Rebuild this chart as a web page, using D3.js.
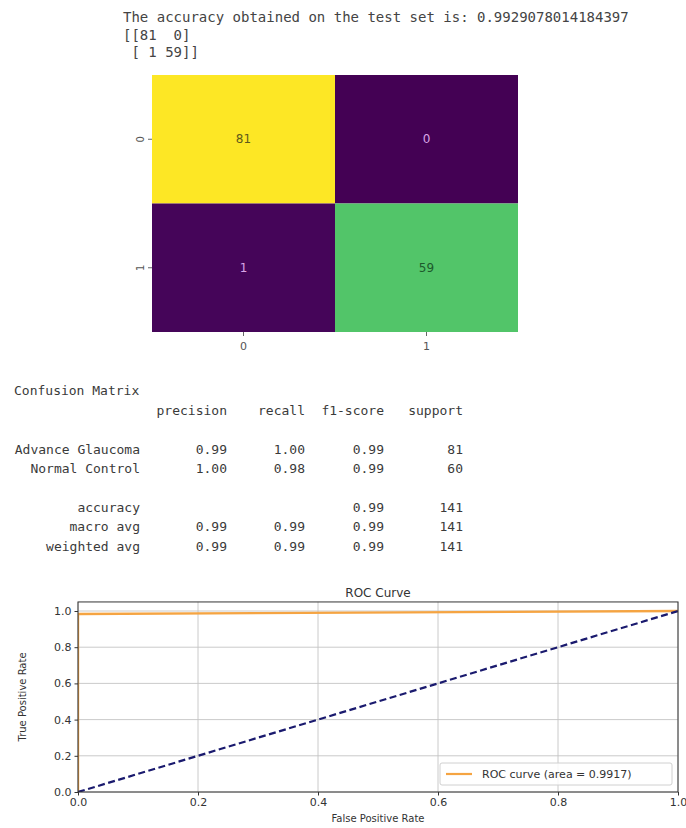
<!DOCTYPE html>
<html><head><meta charset="utf-8">
<script src="https://cdn.jsdelivr.net/npm/d3@7"></script>
<style>body{margin:0;background:#fff}svg{display:block}</style>
</head><body>
<svg id="c" width="686" height="828"></svg>
<script>
// ---- data ----
const accuracyLine = "The accuracy obtained on the test set is: 0.9929078014184397";
const matrixLines = ["[[81  0]", " [ 1 59]]"];
const cmLabels = ["0", "1"];
const cmValues = [[81, 0], [1, 59]];
const reportTitle = "Confusion Matrix";
const reportHeader = ["precision", "recall", "f1-score", "support"];
const reportClassRows = [
  ["Advance Glaucoma", "0.99", "1.00", "0.99", "81"],
  ["Normal Control", "1.00", "0.98", "0.99", "60"]
];
const reportSummaryRows = [
  ["accuracy", "", "", "0.99", "141"],
  ["macro avg", "0.99", "0.99", "0.99", "141"],
  ["weighted avg", "0.99", "0.99", "0.99", "141"]
];
const rocFpr = [0, 0, 1];
const rocTpr = [0, 0.9833, 1];
const chanceFpr = [0, 1];
const chanceTpr = [0, 1];
const rocTicks = [0, 0.2, 0.4, 0.6, 0.8, 1.0];
const rocAuc = 0.9917;

const svg = d3.select("#c");
const mono = "'DejaVu Sans Mono', monospace";
const sans = "'DejaVu Sans', sans-serif";

// ---- top console text ----
const consoleG = svg.append("g").attr("font-family", mono).attr("font-size", 14).attr("fill", "#444");
consoleG.append("text").attr("x", 123).attr("y", 22).text(accuracyLine);
consoleG.selectAll("text.m").data(matrixLines).join("text").attr("class", "m")
  .attr("x", 123).attr("y", (d, i) => 40 + i * 17).style("white-space", "pre").text(d => d);

// ---- heatmap ----
const hx = d3.scaleBand().domain(cmLabels).range([152, 518]);
const hy = d3.scaleBand().domain(cmLabels).range([75, 332]);
const color = d3.scaleSequential(d3.interpolateViridis).domain([0, 81]);
const cells = [];
cmValues.forEach((row, i) => row.forEach((v, j) => cells.push({r: cmLabels[i], c: cmLabels[j], v})));
const hm = svg.append("g");
hm.selectAll("rect").data(cells).join("rect")
  .attr("x", d => hx(d.c)).attr("y", d => hy(d.r))
  .attr("width", hx.bandwidth()).attr("height", hy.bandwidth())
  .attr("fill", d => color(d.v));
hm.selectAll("text").data(cells).join("text")
  .attr("x", d => hx(d.c) + hx.bandwidth() / 2).attr("y", d => hy(d.r) + hy.bandwidth() / 2 + 4)
  .attr("text-anchor", "middle").attr("font-family", sans).attr("font-size", 12)
  .attr("fill", d => d.v > 40 ? (d.v > 70 ? "#5e5a1c" : "#1d5a2c") : "#d9a6e6")
  .text(d => d.v);
const hxa = svg.append("g").attr("transform", "translate(0,332)")
  .call(d3.axisBottom(hx).tickSize(4).tickPadding(6));
hxa.select(".domain").remove();
hxa.selectAll("text").attr("font-family", sans).attr("font-size", 11).attr("fill", "#555");
hxa.selectAll("line").attr("stroke", "#666");
const hya = svg.append("g").attr("transform", "translate(152,0)")
  .call(d3.axisLeft(hy).tickSize(4).tickPadding(4));
hya.select(".domain").remove();
hya.selectAll("line").attr("stroke", "#666");
hya.selectAll("text").attr("font-family", sans).attr("font-size", 10).attr("fill", "#555")
  .attr("text-anchor", "middle").attr("dy", 0)
  .attr("transform", "translate(-12,0) rotate(-90)")
  .attr("x", 0).attr("y", 4);

// ---- classification report ----
const rep = svg.append("g").attr("font-family", mono).attr("font-size", 13).attr("fill", "#3a3a3a");
rep.append("text").attr("x", 14).attr("y", 395).text(reportTitle);
const colEnds = [140, 227, 305, 384, 463];
rep.selectAll("text.h").data(reportHeader).join("text").attr("class", "h")
  .attr("x", (d, i) => colEnds[i + 1]).attr("y", 415).attr("text-anchor", "end").text(d => d);
const rowY = [454, 473, 512, 531, 551];
const allRows = reportClassRows.concat(reportSummaryRows);
allRows.forEach((row, ri) => {
  rep.selectAll("text.r" + ri).data(row).join("text").attr("class", "r" + ri)
    .attr("x", (d, i) => colEnds[i]).attr("y", rowY[ri]).attr("text-anchor", "end").text(d => d);
});

// ---- ROC curve ----
const x = d3.scaleLinear().domain([0, 1]).range([78, 678]);
const y = d3.scaleLinear().domain([0, 1.05]).range([792, 792 - 1.05 * 181]);
svg.append("defs").append("clipPath").attr("id", "plotclip").append("rect")
  .attr("x", x(0)).attr("y", y(1.05)).attr("width", x(1) - x(0)).attr("height", y(0) - y(1.05));
const roc = svg.append("g");
roc.append("g").selectAll("line").data(rocTicks).join("line")
  .attr("x1", d => x(d)).attr("x2", d => x(d)).attr("y1", y(1.05)).attr("y2", y(0))
  .attr("stroke", "#c4c4c4").attr("stroke-width", 0.9);
roc.append("g").selectAll("line").data(rocTicks).join("line")
  .attr("y1", d => y(d)).attr("y2", d => y(d)).attr("x1", x(0)).attr("x2", x(1))
  .attr("stroke", "#c4c4c4").attr("stroke-width", 0.9);
const line = d3.line().x(d => x(d[0])).y(d => y(d[1]));
const plotG = roc.append("g").attr("clip-path", "url(#plotclip)");
plotG.append("path").datum(rocFpr.map((f, i) => [f, rocTpr[i]]))
  .attr("d", line).attr("fill", "none").attr("stroke", "#f5a442").attr("stroke-width", 2.4);
plotG.append("path").datum(chanceFpr.map((f, i) => [f, chanceTpr[i]]))
  .attr("d", line).attr("fill", "none").attr("stroke", "#1a1a6e").attr("stroke-width", 2.2)
  .attr("stroke-dasharray", "7,3.5");
roc.append("rect").attr("x", x(0)).attr("y", y(1.05)).attr("width", x(1) - x(0)).attr("height", y(0) - y(1.05))
  .attr("fill", "none").attr("stroke", "#333").attr("stroke-width", 1);
const xa = roc.append("g").attr("transform", `translate(0,${y(0)})`)
  .call(d3.axisBottom(x).tickValues(rocTicks).tickFormat(d3.format(".1f")).tickSize(3.5).tickPadding(3));
const ya = roc.append("g").attr("transform", `translate(${x(0)},0)`)
  .call(d3.axisLeft(y).tickValues(rocTicks).tickFormat(d3.format(".1f")).tickSize(3.5).tickPadding(3));
[xa, ya].forEach(a => {
  a.select(".domain").remove();
  a.selectAll("text").attr("font-family", sans).attr("font-size", 11).attr("fill", "#333");
  a.selectAll("line").attr("stroke", "#333");
});
roc.append("text").attr("x", (x(0) + x(1)) / 2).attr("y", 597).attr("text-anchor", "middle")
  .attr("font-family", sans).attr("font-size", 12).attr("fill", "#333").text("ROC Curve");
roc.append("text").attr("x", (x(0) + x(1)) / 2).attr("y", 822).attr("text-anchor", "middle")
  .attr("font-family", sans).attr("font-size", 10).attr("fill", "#333").text("False Positive Rate");
roc.append("text").attr("transform", `translate(26,${(y(0) + y(1.05)) / 2}) rotate(-90)`).attr("text-anchor", "middle")
  .attr("font-family", sans).attr("font-size", 10).attr("fill", "#333").text("True Positive Rate");
// legend
const lg = roc.append("g");
lg.append("rect").attr("x", 440).attr("y", 763).attr("width", 232).attr("height", 22).attr("rx", 2)
  .attr("fill", "#fff").attr("fill-opacity", 0.85).attr("stroke", "#d0d0d0");
lg.append("line").attr("x1", 446).attr("x2", 472).attr("y1", 774).attr("y2", 774)
  .attr("stroke", "#f5a442").attr("stroke-width", 2.2);
lg.append("text").attr("x", 482).attr("y", 778).attr("font-family", sans).attr("font-size", 11)
  .attr("fill", "#333").text(`ROC curve (area = ${rocAuc.toFixed(4)})`);
</script>
</body></html>
